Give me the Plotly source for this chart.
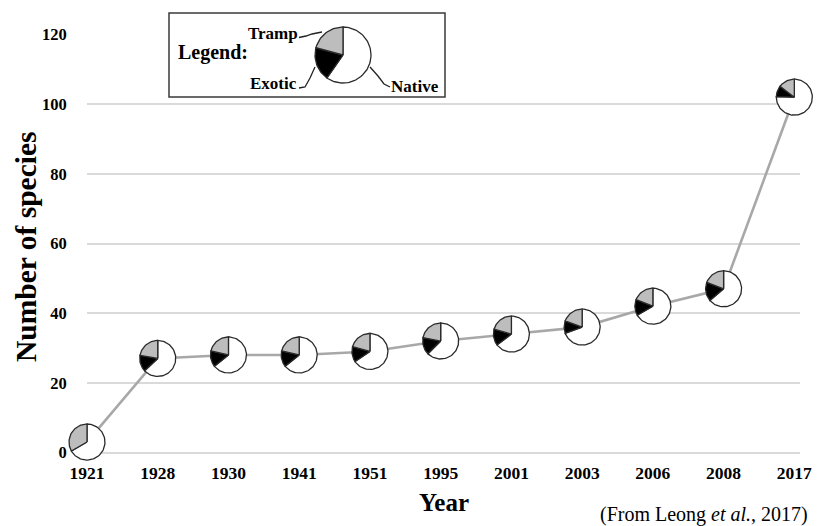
import numpy as np
import plotly.graph_objects as go

# ---------------- data ----------------
years = ["1921", "1928", "1930", "1941", "1951", "1995", "2001", "2003", "2006", "2008", "2017"]
totals = [3, 27, 28, 28, 29, 32, 34, 36, 42, 47, 102]
tramp = [1, 6, 6, 6, 6, 7, 7, 7, 8, 9, 15]
exotic = [0, 4, 4, 4, 4, 5, 5, 4, 6, 8, 10]
native = [2, 17, 18, 18, 19, 20, 22, 25, 28, 30, 77]
y_ticks = [0, 20, 40, 60, 80, 100, 120]
legend_parts = [75, 70, 215]  # illustrative legend pie: tramp, exotic, native

# ---------------- style / layout ----------------
SERIF = "Liberation Serif"
GRID = "#dadada"
LINE = "#a8a8a8"
EDGE = "#2a2a2a"
C_TRAMP, C_EXOTIC, C_NATIVE = "#bdbdbd", "#000000", "#ffffff"

W, H = 825, 526
OFF = 8  # page body margin in the viewer
# reference pixel positions -> figure pixels
PX_L, PX_R = 87 - OFF, 800 - OFF
PX_T, PX_B = 34.5 - OFF, 452.5 - OFF
X_RANGE = [0, 10.08]
Y_RANGE = [0, 120]
PIE_R = 18
LEG_R = 28

sx = (PX_R - PX_L) / (X_RANGE[1] - X_RANGE[0])
sy = (PX_B - PX_T) / (Y_RANGE[1] - Y_RANGE[0])
x2_range = [X_RANGE[0] - PX_L / sx, X_RANGE[0] + (W - PX_L) / sx]
y2_range = [Y_RANGE[0] - (H - PX_B) / sy, Y_RANGE[1] + PX_T / sy]


def px_to_x2(px):
    return X_RANGE[0] + (px - OFF - PX_L) / sx


def py_to_y2(py):
    return Y_RANGE[0] + (PX_B - (py - OFF)) / sy


def pp(px, py):
    return (px - OFF) / W, 1 - (py - OFF) / H


def wedges(cx, cy, R, parts):
    total = float(sum(parts))
    rx, ry = R / sx, R / sy
    out = []
    a = 90.0
    for p in parts:
        if p <= 0:
            out.append(None)
            continue
        sweep = 360.0 * p / total
        n = max(4, int(sweep / 3) + 2)
        angs = np.radians(np.linspace(a, a + sweep, n))
        xs = [cx] + list(cx + rx * np.cos(angs)) + [cx]
        ys = [cy] + list(cy + ry * np.sin(angs)) + [cy]
        out.append((xs, ys))
        a += sweep
    return out


slice_x = {k: [] for k in range(3)}
slice_y = {k: [] for k in range(3)}


def add_pie(cx, cy, R, parts):
    for k, w in enumerate(wedges(cx, cy, R, parts)):
        if w is None:
            continue
        slice_x[k] += w[0] + [None]
        slice_y[k] += w[1] + [None]


for i in range(len(years)):
    add_pie(i, totals[i], PIE_R, [tramp[i], exotic[i], native[i]])

leg_cx, leg_cy = px_to_x2(343), py_to_y2(55)
add_pie(leg_cx, leg_cy, LEG_R, legend_parts)

fig = go.Figure()

fig.add_trace(go.Scatter(
    x=years, y=totals, mode="lines", xaxis="x", yaxis="y",
    line=dict(color=LINE, width=2.6), hoverinfo="skip"))

colors = [C_TRAMP, C_EXOTIC, C_NATIVE]
for k in [2, 1, 0]:
    fig.add_trace(go.Scatter(
        x=slice_x[k], y=slice_y[k], mode="lines", fill="toself",
        fillcolor=colors[k], line=dict(color=EDGE, width=1.3),
        xaxis="x2", yaxis="y2", hoverinfo="skip"))

xtick_font = dict(family=SERIF, size=17.5, color="black", weight="bold")
ytick_font = dict(family=SERIF, size=16.5, color="black", weight="bold")

fig.update_layout(
    width=W, height=H,
    margin=dict(l=0, r=0, t=0, b=0, pad=0, autoexpand=False),
    paper_bgcolor="white", plot_bgcolor="rgba(0,0,0,0)",
    showlegend=False,
    xaxis=dict(domain=[PX_L / W, PX_R / W], type="category",
               categoryorder="array", categoryarray=years, range=X_RANGE,
               showgrid=False, zeroline=False, showline=False,
               ticks="outside", ticklen=4, tickcolor="rgba(0,0,0,0)",
               tickfont=xtick_font, anchor="y", automargin=False),
    yaxis=dict(domain=[1 - PX_B / H, 1 - PX_T / H], range=Y_RANGE,
               tickvals=y_ticks, showgrid=True, gridcolor=GRID, gridwidth=1.6,
               zeroline=True, zerolinecolor=GRID, zerolinewidth=1.6,
               showline=False, ticks="outside", ticklen=16,
               tickcolor="rgba(0,0,0,0)", tickfont=ytick_font, anchor="x",
               automargin=False),
    xaxis2=dict(domain=[0, 1], range=x2_range, visible=False, anchor="y2",
                automargin=False),
    yaxis2=dict(domain=[0, 1], range=y2_range, visible=False, anchor="x2",
                automargin=False),
)

# legend box
fig.add_shape(type="rect", xref="x2", yref="y2",
              x0=px_to_x2(169), x1=px_to_x2(445),
              y0=py_to_y2(97), y1=py_to_y2(13),
              fillcolor="white", line=dict(color="#3a3a3a", width=1.5),
              layer="between")


def path_px(points):
    s = ""
    for j, (a, b) in enumerate(points):
        x, y = pp(a, b)
        s += ("M" if j == 0 else " L") + f" {x:.5f} {y:.5f}"
    return s


leaders = [
    [(299, 37.5), (306, 36), (312, 34), (322, 32)],
    [(299, 88), (305, 87), (310, 78), (315, 67)],
    [(370, 67), (378, 76), (384, 84), (390, 87)],
]
for pts in leaders:
    fig.add_shape(type="path", xref="paper", yref="paper", path=path_px(pts),
                  line=dict(color="#222222", width=1.3), layer="above")


def ann(text, px, py, size, bold=True, angle=0, xanchor="center"):
    x, y = pp(px, py)
    fig.add_annotation(text=text, x=x, y=y, xref="paper", yref="paper",
                       showarrow=False, textangle=angle, xanchor=xanchor,
                       yanchor="middle",
                       font=dict(family=SERIF, size=size, color="black",
                                 weight="bold" if bold else "normal"))


ann("Legend:", 212.5, 52, 20)
ann("Tramp", 272.5, 33, 17)
ann("Exotic", 273.5, 83, 17)
ann("Native", 415, 86, 17)
ann("Number of species", 26, 247, 29.5, angle=-90)
ann("Year", 444, 502, 25)
ann("(From Leong <i>et al.</i>, 2017)", 704, 514, 20, bold=False)

fig.write_html("out.html")
